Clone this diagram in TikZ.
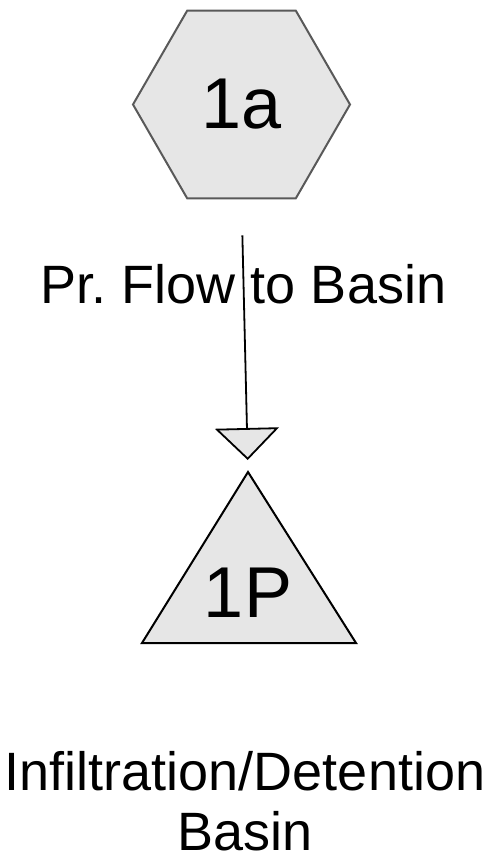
\documentclass[tikz,border=0pt]{standalone}
\usepackage{fontspec}
\setmainfont{Liberation Sans}
\usetikzlibrary{shapes.geometric,arrows.meta}

\definecolor{shade}{HTML}{E6E6E6}
\definecolor{rim}{HTML}{595959}

\tikzset{
	bignum/.style={font=\fontsize{72}{80}\selectfont},
	label/.style={font=\fontsize{54}{60}\selectfont},
}

\begin{document}
\begin{tikzpicture}[x=1pt,y=-1pt]
	\useasboundingbox (0,0) rectangle (489,858);

	% subcatchment
	\node[regular polygon, regular polygon sides=6, minimum size=217pt,
		draw=rim, fill=shade, line width=2pt, inner sep=0pt, bignum]
		(sub) at (241.5,104.5) {1a};

	% pond
	\draw[fill=shade, line width=2pt] (248,472) -- (356,643) -- (142,643) -- cycle;
	\coordinate (pondtop) at (248,472);
	\node[bignum, anchor=base] (pond) at (248,617) {1P};
	\node[label, align=center, inner sep=0pt] (pondname) at (245,801) {Infiltration/Detention\\Basin};

	\draw[-{Triangle[width=64pt,length=32pt,fill=shade]}, line width=1.8pt,
		shorten <=36pt, shorten >=12pt]
		(sub.south) -- node[pos=0.31, label] (flow) {Pr.\ Flow to Basin} (pondtop);

\end{tikzpicture}
\end{document}
